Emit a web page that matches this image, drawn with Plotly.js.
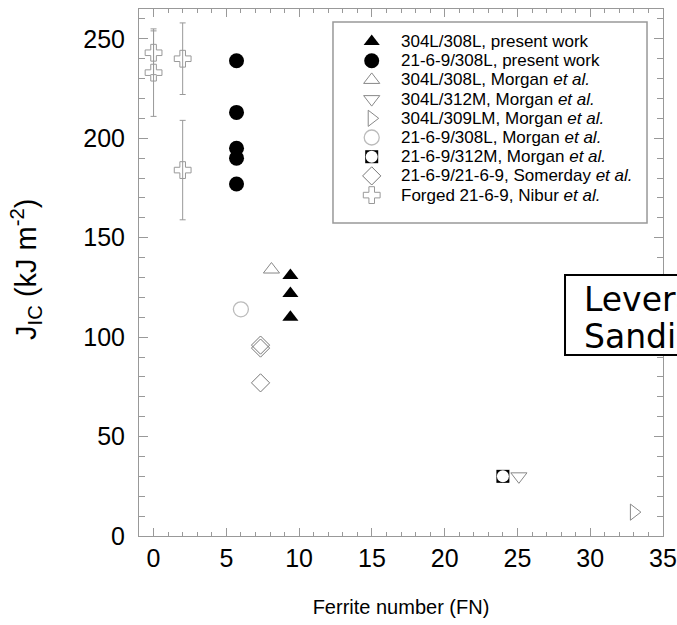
<!DOCTYPE html>
<html>
<head>
<meta charset="utf-8">
<script src="https://cdn.plot.ly/plotly-3.0.1.min.js"></script>
<style>html,body{margin:0;padding:0;overflow:hidden;background:#fff}#chart{width:677px;height:625px}</style>
</head>
<body>
<div id="chart"></div>
<script>
// ---- data (Ferrite number FN, J_IC kJ/m^2) ----
const fnPresent304 = [9.4, 9.4, 9.4];
const jPresent304  = [131, 122, 110];
const fnPresent21  = [5.7, 5.7, 5.7, 5.7, 5.7];
const jPresent21   = [239, 213, 195, 190, 177];
const fnMorgan308  = [8.1];
const jMorgan308   = [134];
const fnMorgan312  = [25.1];
const jMorgan312   = [30];
const fnMorgan309  = [33.0];
const jMorgan309   = [12];
const fnMorgan21_308 = [6.0];
const jMorgan21_308  = [114];
const fnMorgan21_312 = [24.0];
const jMorgan21_312  = [30];
const fnSomerday   = [7.35, 7.35, 7.35];
const jSomerday    = [96, 94.5, 77];
const fnNibur      = [0, 0, 2, 2];
const jNibur       = [243, 233, 240, 184];
const errNibur     = [11, 22, 18, 25];

const legendLabels = [
  "304L/308L, present work",
  "21-6-9/308L, present work",
  "304L/308L, Morgan <i>et al.</i>",
  "304L/312M, Morgan <i>et al.</i>",
  "304L/309LM, Morgan <i>et al.</i>",
  "21-6-9/308L, Morgan <i>et al.</i>",
  "21-6-9/312M, Morgan <i>et al.</i>",
  "21-6-9/21-6-9, Somerday <i>et al.</i>",
  "Forged 21-6-9, Nibur <i>et al.</i>"
];
const boxLines = ["Leveraging", "Sandia"];

// ---- styles ----
const FONT = "Liberation Sans, Arial, sans-serif";
const BOXFONT = "DejaVu Sans, sans-serif";
const styles = [
  {symbol:"triangle-up", color:"#000", size:14, line:{width:0}},
  {symbol:"circle", color:"#000", size:15, line:{width:0}},
  {symbol:"triangle-up-open", color:"#888", size:14, line:{width:1, color:"#888"}},
  {symbol:"triangle-down-open", color:"#888", size:14, line:{width:1, color:"#888"}},
  {symbol:"triangle-right-open", color:"#888", size:14, line:{width:1, color:"#888"}},
  {symbol:"circle-open", color:"#bbb", size:15, line:{width:1.3, color:"#bbb"}},
  {symbol:"square", color:"#000", size:13, line:{width:0}},
  {symbol:"diamond-open", color:"#777", size:14, line:{width:1, color:"#777"}},
  {symbol:"cross-open", color:"#999", size:14, line:{width:1, color:"#999"}}
];
const innerDot = {symbol:"circle", color:"#fff", size:12, line:{width:0}};

const series = [
  [fnPresent304, jPresent304],
  [fnPresent21, jPresent21],
  [fnMorgan308, jMorgan308],
  [fnMorgan312, jMorgan312],
  [fnMorgan309, jMorgan309],
  [fnMorgan21_308, jMorgan21_308],
  [fnMorgan21_312, jMorgan21_312],
  [fnSomerday, jSomerday],
  [fnNibur, jNibur]
];

function mk(s){ return {symbol:s.symbol, color:s.color, size:s.size, line:s.line}; }

const traces = [];
series.forEach((sd, i) => {
  const t = {x: sd[0], y: sd[1], mode:"markers", type:"scatter", showlegend:false,
             marker: mk(styles[i]), cliponaxis:false, hoverinfo:"x+y"};
  if (i === 8) {
    t.error_y = {type:"data", array: errNibur, visible:true, color:"#999", thickness:1, width:3};
  }
  traces.push(t);
  if (i === 6) {
    traces.push({x: sd[0], y: sd[1], mode:"markers", type:"scatter", showlegend:false,
                 marker: mk(innerDot), cliponaxis:false, hoverinfo:"skip"});
  }
});

// ---- custom legend (paper-fraction axes) ----
const legX = 0.4441, legTextX = 0.5, legTop = 0.9383, legStep = 0.03643;
const legYs = legendLabels.map((_, i) => legTop - i * legStep);
styles.forEach((s, i) => {
  traces.push({x:[legX], y:[legYs[i]], xaxis:"x2", yaxis:"y2", mode:"markers", type:"scatter",
               showlegend:false, marker: mk(s), cliponaxis:false, hoverinfo:"skip"});
  if (i === 6) {
    traces.push({x:[legX], y:[legYs[i]], xaxis:"x2", yaxis:"y2", mode:"markers", type:"scatter",
                 showlegend:false, marker: mk(innerDot), cliponaxis:false, hoverinfo:"skip"});
  }
});

const annotations = legendLabels.map((t, i) => ({
  xref:"paper", yref:"paper", x: legTextX - 0.004, y: legYs[i], xanchor:"left", yanchor:"middle",
  text: t, showarrow:false, font:{family:FONT, size:17, color:"#000"}
}));
const boxYs = [0.4497, 0.3795];
boxLines.forEach((t, i) => annotations.push({
  xref:"paper", yref:"paper", x: 0.846, y: boxYs[i], xanchor:"left", yanchor:"middle", align:"left",
  text: t, showarrow:false, font:{family:BOXFONT, size:33, color:"#000"}
}));
// y-axis title as rotated annotation
annotations.push({
  xref:"paper", yref:"paper", x: -0.2155, y: 0.505, xanchor:"center", yanchor:"middle",
  textangle:-90, showarrow:false,
  text:"J<sub>IC</sub> (kJ m<sup>-2</sup>)", font:{family:FONT, size:29, color:"#000"}
});

const axisCommon = {
  showline:true, linecolor:"#999", linewidth:1, mirror:"ticks", ticks:"inside",
  tickcolor:"#999", showgrid:false, zeroline:false,
  tickfont:{family:FONT, size:25, color:"#000"}
};

const layout = {
  width:677, height:625,
  margin:{l:139, r:14, t:9, b:89},
  paper_bgcolor:"#fff", plot_bgcolor:"#fff",
  font:{family:FONT},
  xaxis: Object.assign({}, axisCommon, {
    range:[-1, 35], dtick:5, tick0:0, ticklen:8,
    minor:{dtick:1, tick0:0, ticklen:4, tickcolor:"#999", ticks:"inside"},
    title:{text:"Ferrite number (FN)", standoff:28, font:{family:FONT, size:20, color:"#000"}}
  }),
  yaxis: Object.assign({}, axisCommon, {
    range:[0, 265], dtick:50, tick0:0, ticklen:9, ticklabelstandoff:8,
    minor:{dtick:10, tick0:0, ticklen:6, tickcolor:"#999", ticks:"inside"}
  }),
  xaxis2:{overlaying:"x", anchor:"y2", range:[0,1], visible:false, fixedrange:true},
  yaxis2:{overlaying:"y", anchor:"x2", range:[0,1], visible:false, fixedrange:true},
  shapes:[
    {type:"rect", xref:"paper", yref:"paper", x0:0.3702, x1:0.9695, y0:0.5939, y1:0.9753,
     line:{color:"#999", width:1.5}, fillcolor:"#fff", layer:"below"},
    {type:"rect", xref:"paper", yref:"paper", x0:0.813, x1:1.2, y0:0.3435, y1:0.4953,
     line:{color:"#000", width:2}, fillcolor:"#fff", layer:"above"}
  ],
  annotations: annotations,
  showlegend:false
};

Plotly.newPlot("chart", traces, layout, {displayModeBar:false, staticPlot:true});
</script>
</body>
</html>
